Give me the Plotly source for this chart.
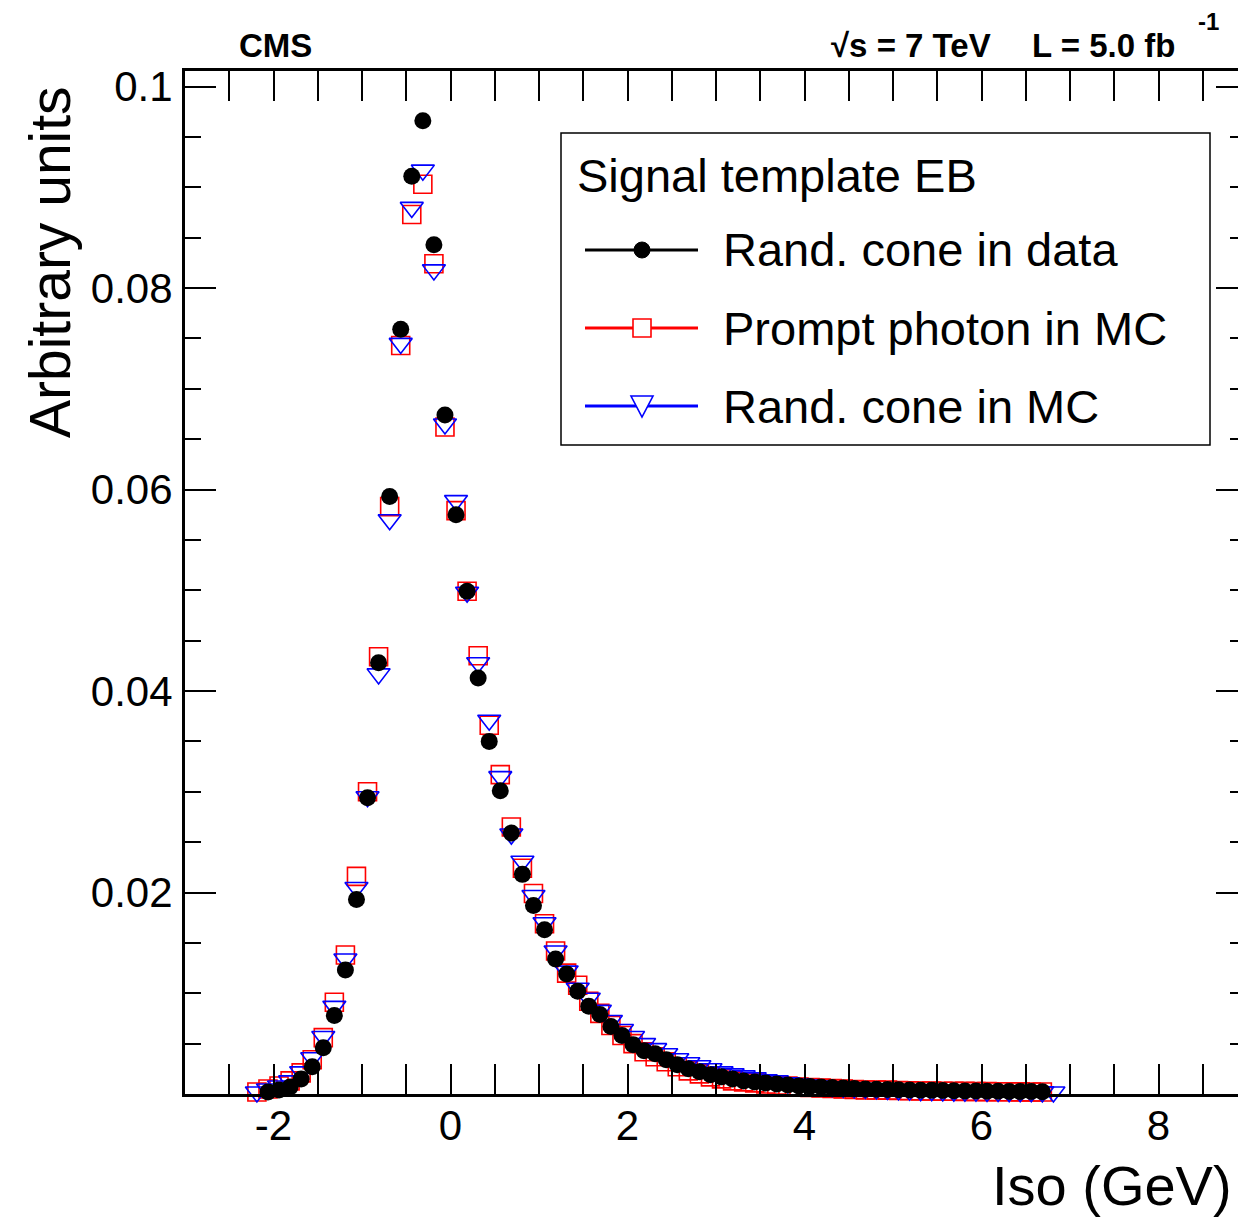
import plotly.graph_objects as go

# ---------------- data ----------------
iso_bins = [-2.1875, -2.0625, -1.9375, -1.8125, -1.6875, -1.5625, -1.4375, -1.3125,
            -1.1875, -1.0625, -0.9375, -0.8125, -0.6875, -0.5625, -0.4375, -0.3125,
            -0.1875, -0.0625, 0.0625, 0.1875, 0.3125, 0.4375, 0.5625, 0.6875,
            0.8125, 0.9375, 1.0625, 1.1875, 1.3125, 1.4375, 1.5625, 1.6875,
            1.8125, 1.9375, 2.0625, 2.1875, 2.3125, 2.4375, 2.5625, 2.6875,
            2.8125, 2.9375, 3.0625, 3.1875, 3.3125, 3.4375, 3.5625, 3.6875,
            3.8125, 3.9375, 4.0625, 4.1875, 4.3125, 4.4375, 4.5625, 4.6875,
            4.8125, 4.9375, 5.0625, 5.1875, 5.3125, 5.4375, 5.5625, 5.6875,
            5.8125, 5.9375, 6.0625, 6.1875, 6.3125, 6.4375, 6.5625, 6.6875,
            6.8125]

rand_cone_data = [None, 0.0002, 0.0004, 0.0007, 0.0015, 0.0027, 0.0046, 0.0078,
                  0.0123, 0.0193, 0.0294, 0.0428, 0.0593, 0.0759, 0.0911, 0.0966,
                  0.0843, 0.0674, 0.0575, 0.0499, 0.0413, 0.0350, 0.0301, 0.0259,
                  0.0218, 0.0187, 0.0163, 0.0134, 0.0119, 0.0102, 0.0087, 0.0079,
                  0.0067, 0.0058, 0.0049, 0.0043, 0.0040, 0.0034, 0.0029, 0.0025,
                  0.0022, 0.0019, 0.0017, 0.0015, 0.0013, 0.0012, 0.0011, 0.0010,
                  0.0009, 0.0008, 0.00075, 0.0007, 0.00065, 0.0006, 0.00055, 0.0005,
                  0.00048, 0.00045, 0.00042, 0.0004, 0.00038, 0.00036, 0.00034, 0.00032,
                  0.0003, 0.0003, 0.00028, 0.00027, 0.00026, 0.00025, 0.00024, 0.00023,
                  None]

prompt_photon_mc = [0.0002, 0.0005, 0.0008, 0.0013, 0.0021, 0.0034, 0.0056, 0.0091,
                    0.0138, 0.0216, 0.0300, 0.0434, 0.0583, 0.0743, 0.0873, 0.0903,
                    0.0824, 0.0662, 0.0579, 0.0499, 0.0435, 0.0366, 0.0317, 0.0265,
                    0.0224, 0.0199, 0.0169, 0.0142, 0.0120, 0.0108, 0.0092, 0.0080,
                    0.0068, 0.0058, 0.0050, 0.0042, 0.0037, 0.0032, 0.0027, 0.0023,
                    0.0020, 0.0017, 0.0015, 0.0013, 0.0012, 0.0011, 0.0010, 0.0009,
                    0.0008, 0.0007, 0.00065, 0.0006, 0.00055, 0.0005, 0.00045, 0.0004,
                    0.0004, 0.00038, 0.00035, 0.00033, 0.0003, 0.0003, 0.00028, 0.00027,
                    0.00026, 0.00025, 0.00024, 0.00023, 0.00022, 0.00021, 0.0002, 0.0002,
                    None]

rand_cone_mc = [0.0002, 0.0005, 0.0008, 0.0013, 0.0022, 0.0036, 0.0057, 0.0087,
                0.0134, 0.0205, 0.0295, 0.0417, 0.0570, 0.0745, 0.0880, 0.0917,
                0.0818, 0.0665, 0.0589, 0.0498, 0.0428, 0.0371, 0.0315, 0.0258,
                0.0231, 0.0197, 0.0170, 0.0142, 0.0122, 0.0105, 0.0095, 0.0083,
                0.0073, 0.0064, 0.0057, 0.0050, 0.0045, 0.0040, 0.0035, 0.0031,
                0.0028, 0.0025, 0.0022, 0.0020, 0.0018, 0.0016, 0.0014, 0.0013,
                0.0011, 0.0010, 0.0009, 0.0008, 0.00072, 0.00065, 0.0006, 0.00055,
                0.0005, 0.00045, 0.0004, 0.00037, 0.00034, 0.00032, 0.0003, 0.00029,
                0.00028, 0.00027, 0.00026, 0.00025, 0.00024, 0.00023, 0.00022, 0.00021,
                0.0002]

x_tick_vals = [-2, 0, 2, 4, 6, 8]
x_tick_text = ["-2", "0", "2", "4", "6", "8"]
y_tick_vals = [0.02, 0.04, 0.06, 0.08, 0.1]
y_tick_text = ["0.02", "0.04", "0.06", "0.08", "0.1"]

legend_title = "Signal template EB"
legend_labels = ["Rand. cone in data", "Prompt photon in MC", "Rand. cone in MC"]

# ---------------- layout geometry (pixels) ----------------
FIG_W, FIG_H = 1238, 1220
L, R, T, B = 185, 1238, 71, 1094
X_RANGE = [-3.0, -3.0 + (R - L) / 88.5]
Y_RANGE = [0.0, (B - T) / 10075.0]
FONT = "Liberation Sans, Arial, Helvetica, sans-serif"


def px(x):
    return (x - L) / (R - L)


def py(y):
    return (B - y) / (B - T)


fig = go.Figure()

fig.add_trace(go.Scatter(
    x=iso_bins, y=prompt_photon_mc, mode="markers", name=legend_labels[1],
    marker=dict(symbol="square-open", size=18, color="#ff0000", line=dict(width=1.6, color="#ff0000")),
    cliponaxis=False, showlegend=False))
fig.add_trace(go.Scatter(
    x=iso_bins, y=rand_cone_mc, mode="markers", name=legend_labels[2],
    marker=dict(symbol="triangle-down-open", size=20, color="#0000ff", line=dict(width=1.6, color="#0000ff")),
    cliponaxis=False, showlegend=False))
fig.add_trace(go.Scatter(
    x=iso_bins, y=rand_cone_data, mode="markers", name=legend_labels[0],
    marker=dict(symbol="circle", size=17, color="black", line=dict(width=0)),
    cliponaxis=False, showlegend=False))
# helper trace for the right-hand tick axis
fig.add_trace(go.Scatter(x=[], y=[], yaxis="y2", showlegend=False, hoverinfo="skip"))

shapes = []
annotations = []

# legend box
shapes.append(dict(type="rect", xref="paper", yref="paper",
                   x0=px(561), x1=px(1210), y0=py(445), y1=py(133),
                   line=dict(color="black", width=1.5), fillcolor="white", layer="below"))
annotations.append(dict(text=legend_title, xref="paper", yref="paper", x=px(575), y=py(175),
                        xanchor="left", yanchor="middle", showarrow=False,
                        font=dict(family=FONT, size=47, color="black")))
row_y = [250, 328, 406]
row_col = ["black", "#ff0000", "#0000ff"]
for yy, col, lab in zip(row_y, row_col, legend_labels):
    shapes.append(dict(type="line", xref="paper", yref="paper",
                       x0=px(585), x1=px(698), y0=py(yy), y1=py(yy),
                       line=dict(color=col, width=3)))
    annotations.append(dict(text=lab, xref="paper", yref="paper", x=px(721), y=py(yy),
                            xanchor="left", yanchor="middle", showarrow=False,
                            font=dict(family=FONT, size=47, color="black")))
mx = 642
# circle marker
shapes.append(dict(type="circle", xref="paper", yref="paper",
                   x0=px(mx - 8), x1=px(mx + 8), y0=py(row_y[0] + 8), y1=py(row_y[0] - 8),
                   line=dict(color="black", width=1), fillcolor="black"))
# square marker
shapes.append(dict(type="rect", xref="paper", yref="paper",
                   x0=px(mx - 9), x1=px(mx + 9), y0=py(row_y[1] + 9), y1=py(row_y[1] - 9),
                   line=dict(color="#ff0000", width=1.6), fillcolor="white"))
# triangle-down marker
ty = row_y[2]
tri = "M{:.5f},{:.5f} L{:.5f},{:.5f} L{:.5f},{:.5f} Z".format(
    px(mx - 11), py(ty - 10), px(mx + 11), py(ty - 10), px(mx), py(ty + 11))
shapes.append(dict(type="path", xref="paper", yref="paper", path=tri,
                   line=dict(color="#0000ff", width=1.6), fillcolor="white"))

# header texts
annotations.append(dict(text="<b>CMS</b>", xref="paper", yref="paper", x=px(237), y=py(45),
                        xanchor="left", yanchor="middle", showarrow=False,
                        font=dict(family=FONT, size=33, color="black")))
annotations.append(dict(text="<b>√s = 7 TeV</b>", xref="paper", yref="paper", x=px(829), y=py(45),
                        xanchor="left", yanchor="middle", showarrow=False,
                        font=dict(family=FONT, size=33, color="black")))
annotations.append(dict(text="<b>L = 5.0 fb</b>", xref="paper", yref="paper", x=px(1030), y=py(45),
                        xanchor="left", yanchor="middle", showarrow=False,
                        font=dict(family=FONT, size=33, color="black")))
annotations.append(dict(text="<b>-1</b>", xref="paper", yref="paper", x=px(1196), y=py(21),
                        xanchor="left", yanchor="middle", showarrow=False,
                        font=dict(family=FONT, size=24, color="black")))

# axis titles
annotations.append(dict(text="Arbitrary units", xref="paper", yref="paper", x=px(50), y=py(262),
                        xanchor="center", yanchor="middle", textangle=-90, showarrow=False,
                        font=dict(family=FONT, size=57, color="black")))
annotations.append(dict(text="Iso (GeV)", xref="paper", yref="paper", x=px(1234), y=py(1185),
                        xanchor="right", yanchor="middle", showarrow=False,
                        font=dict(family=FONT, size=56, color="black")))

fig.update_layout(
    width=FIG_W, height=FIG_H,
    margin=dict(l=L, r=FIG_W - R, t=T, b=FIG_H - B, pad=0),
    paper_bgcolor="white", plot_bgcolor="white",
    showlegend=False,
    font=dict(family=FONT, color="black"),
    shapes=shapes, annotations=annotations,
    xaxis=dict(range=X_RANGE, showgrid=False, zeroline=False,
               showline=True, linecolor="black", linewidth=3, mirror="allticks",
               ticks="inside", ticklen=30, tickwidth=2, tickcolor="black",
               tickvals=x_tick_vals, ticktext=x_tick_text,
               tickfont=dict(family=FONT, size=42, color="black"),
               ticklabelstandoff=-7,
               minor=dict(ticks="inside", dtick=0.5, tick0=0, ticklen=15,
                          tickwidth=2, tickcolor="black", showgrid=False)),
    yaxis=dict(range=Y_RANGE, showgrid=False, zeroline=False,
               showline=True, linecolor="black", linewidth=3, mirror=False,
               ticks="inside", ticklen=31, tickwidth=2, tickcolor="black",
               tickvals=y_tick_vals, ticktext=y_tick_text,
               tickfont=dict(family=FONT, size=42, color="black"),
               ticklabelstandoff=1,
               minor=dict(ticks="inside", dtick=0.005, tick0=0, ticklen=16,
                          tickwidth=2, tickcolor="black", showgrid=False)),
    yaxis2=dict(range=Y_RANGE, overlaying="y", side="right", anchor="x",
                showgrid=False, zeroline=False, showline=False, showticklabels=False,
                ticks="inside", ticklen=22, tickwidth=2, tickcolor="black",
                tickvals=y_tick_vals,
                minor=dict(ticks="inside", dtick=0.005, tick0=0, ticklen=8,
                           tickwidth=2, tickcolor="black", showgrid=False)),
)

fig.write_html("out.html")
